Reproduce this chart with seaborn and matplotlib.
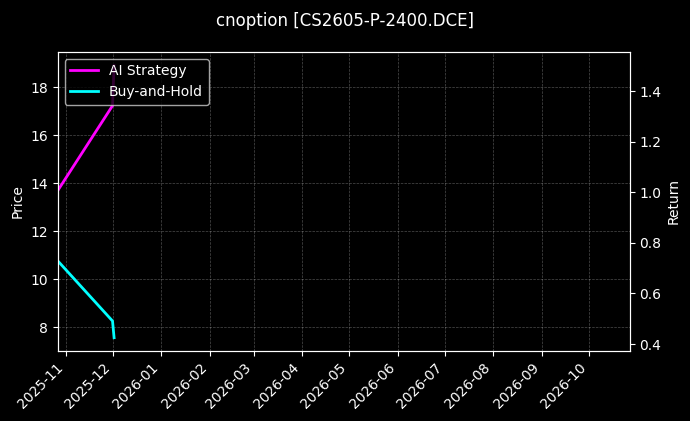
import pandas as pd
import matplotlib
matplotlib.use('Agg')
import matplotlib.pyplot as plt
import matplotlib.dates as mdates
import seaborn as sns

# values
dates = ['2025-10-27', '2025-12-01', '2025-12-02']
ai_strategy = [1.006, 1.342, 1.50]
buy_and_hold = [0.729, 0.491, 0.425]

df = pd.DataFrame({
    'Date': pd.to_datetime(dates * 2),
    'Return': ai_strategy + buy_and_hold,
    'Series': ['AI Strategy'] * len(dates) + ['Buy-and-Hold'] * len(dates),
})

plt.style.use('dark_background')
fig = plt.figure(figsize=(6.9, 4.21), dpi=100)
ax1 = fig.add_axes([0.0836, 0.166, 0.8289, 0.711])
ax2 = ax1.twinx()

sns.lineplot(data=df, x='Date', y='Return', hue='Series', ax=ax2,
             palette={'AI Strategy': '#ff00ff', 'Buy-and-Hold': '#00ffff'},
             linewidth=2)

ax1.set_ylim(7.0, 19.47)
ax2.set_ylim(0.372, 1.555)
ax1.set_xlim(pd.Timestamp('2025-10-27'), pd.Timestamp('2026-10-27'))

ax1.set_ylabel('Price')
ax2.set_ylabel('Return')
ax1.set_xlabel('')
ax2.set_xlabel('')

ax1.xaxis.set_major_locator(mdates.MonthLocator())
ax1.xaxis.set_major_formatter(mdates.DateFormatter('%Y-%m'))
plt.setp(ax1.get_xticklabels(), rotation=45, ha='right')

ax1.grid(True, linestyle='--', linewidth=0.5, alpha=0.3)
ax2.grid(False)

ax2.legend(loc='upper left', title=None)

fig.suptitle('cnoption [CS2605-P-2400.DCE]', fontsize=12, y=0.972)

fig.savefig('out.png', dpi=100)
